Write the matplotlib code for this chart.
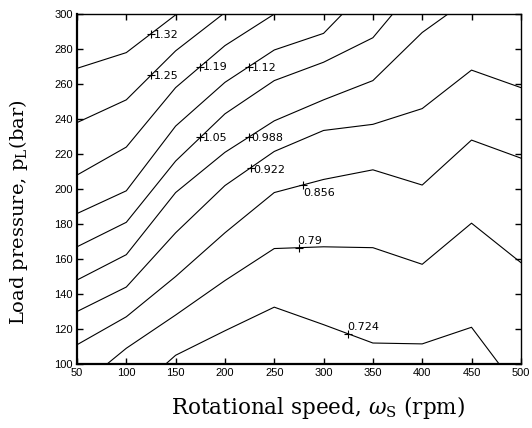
import numpy as np
import matplotlib
matplotlib.use("Agg")
import matplotlib.pyplot as plt

# Contour levels and the (speed, pressure) path of each iso-line
LEVELS = [1.32, 1.25, 1.19, 1.12, 1.05, 0.988, 0.922, 0.856, 0.79, 0.724]

LINE_SPEEDS = [
    [50, 100, 151],
    [50, 100, 150, 198],
    [50, 100, 150, 200, 250],
    [50, 100, 150, 200, 250, 300, 319],
    [50, 100, 150, 200, 250, 300, 350, 370],
    [50, 100, 150, 200, 250, 300, 350, 400, 426],
    [50, 100, 150, 200, 250, 300, 350, 400, 450, 500],
    [50, 100, 150, 200, 250, 300, 350, 400, 450, 500],
    [80.5, 100, 150, 200, 250, 300, 350, 400, 450, 500],
    [140, 150, 200, 250, 300, 350, 400, 450, 478],
]
LINE_PRESSURES = [
    [269, 278, 300],
    [238, 251, 279, 300],
    [208, 224, 258, 282, 300],
    [186, 199, 236, 261, 279.5, 289, 300],
    [167, 181, 216, 243, 262, 272.5, 286.5, 300],
    [148, 162.5, 198, 221, 239, 251, 262, 289.5, 300],
    [130, 144, 175, 202, 221.5, 233.5, 237, 246, 268, 258],
    [111, 127, 150, 175, 198, 205.5, 211, 202.3, 228, 217.7],
    [100, 109, 128, 147.7, 166, 167, 166.5, 157, 180.5, 158],
    [100, 105, 119, 132.5, 122.5, 112, 111.5, 121, 100],
]

# where each contour label sits along its line (speed)
LABEL_SPEEDS = [125, 125, 175, 224, 175, 224, 226, 279, 275, 325]

X_TICKS = list(range(50, 501, 50))
Y_TICKS = list(range(100, 301, 20))

# label text placement: (dx, dy) in points and vertical alignment
LABEL_STYLE = [
    (2, 3, "top"), (2, 3, "top"), (2, 3, "top"), (2, 3, "top"),
    (2, 3, "top"), (2, 3, "top"), (2, 2, "top"), (0, -2, "top"),
    (-1, 1, "bottom"), (-1, 1, "bottom"),
]

plt.rcParams["mathtext.fontset"] = "dejavuserif"

fig = plt.figure(figsize=(5.32, 4.28), dpi=100)
ax = fig.add_axes([0.1447, 0.1495, 0.8343, 0.8175])

for lev, xs, ys in zip(LEVELS, LINE_SPEEDS, LINE_PRESSURES):
    ax.plot(xs, ys, color="black", lw=0.8)

for lev, xs, ys, s, (dx, dy, va) in zip(LEVELS, LINE_SPEEDS, LINE_PRESSURES,
                                        LABEL_SPEEDS, LABEL_STYLE):
    p = np.interp(s, xs, ys)
    ax.plot(s, p, marker="+", color="black", ms=6, mew=0.8)
    ax.annotate(f"{lev:.3g}", (s, p), xytext=(dx, dy),
                textcoords="offset points", ha="left", va=va,
                fontsize=8, family="DejaVu Sans")

ax.set_xlim(50, 500)
ax.set_ylim(100, 300)
ax.set_xticks(X_TICKS)
ax.set_yticks(Y_TICKS)
ax.tick_params(direction="in", length=4, width=1, top=True, right=True,
               labelsize=8, pad=3)
for lbl in ax.get_xticklabels() + ax.get_yticklabels():
    lbl.set_family("Liberation Sans")
for side in ["left", "bottom"]:
    ax.spines[side].set_linewidth(1.6)
for side in ["top", "right"]:
    ax.spines[side].set_linewidth(1.0)

fig.text(0.598, 0.047, r"Rotational speed, $\omega_\mathrm{S}$ (rpm)",
         family="DejaVu Serif", fontsize=15.5, ha="center", va="center")
fig.text(0.034, 0.505, r"Load pressure, p$_\mathrm{L}$(bar)",
         family="DejaVu Serif", fontsize=14, ha="center", va="center",
         rotation=90)

fig.savefig("out.png", dpi=100)
